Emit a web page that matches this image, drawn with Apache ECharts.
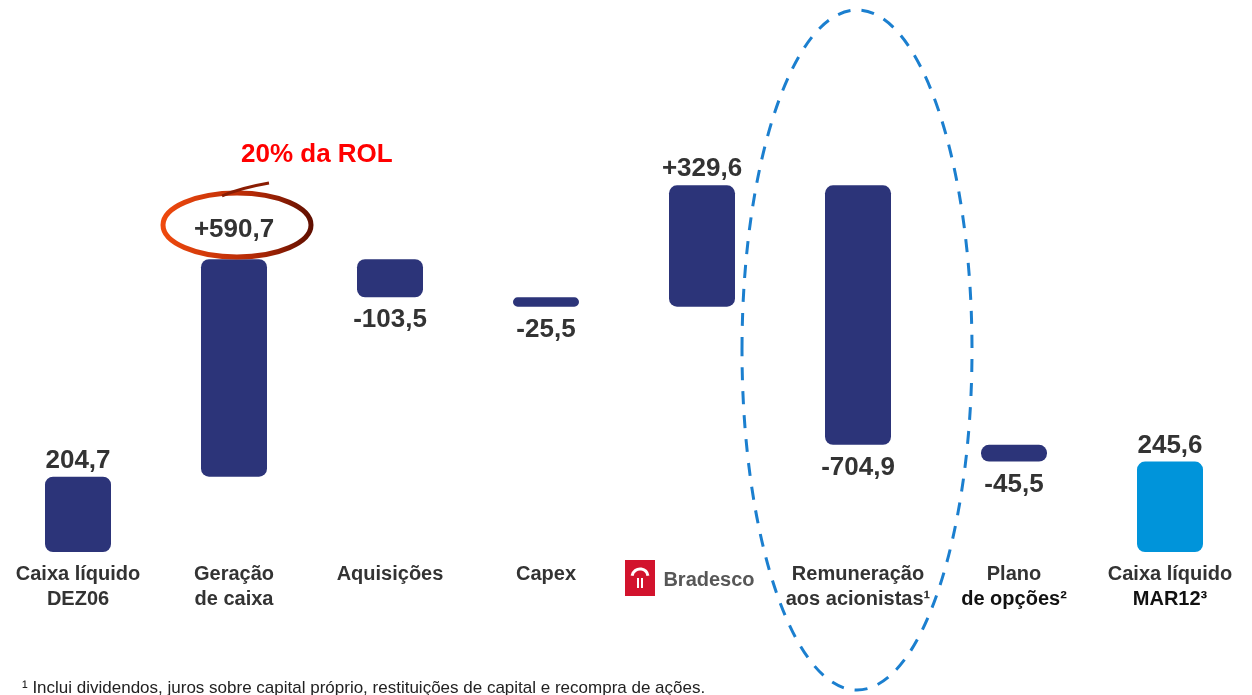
<!DOCTYPE html>
<html>
<head>
<meta charset="utf-8">
<script src="https://cdn.jsdelivr.net/npm/echarts@6/dist/echarts.min.js"></script>
<style>
  html, body { margin: 0; padding: 0; background: #fff; }
  #chart { width: 1252px; height: 695px; }
</style>
</head>
<body>
<div id="chart"></div>
<script>
// categorias e variações (R$ milhões)
const categories = [
  'Caixa líquido\nDEZ06', 'Geração\nde caixa', 'Aquisições', 'Capex',
  'Bradesco', 'Remuneração\naos acionistas¹', 'Plano\nde opções²', 'Caixa líquido\nMAR12³'
];
const deltas = [204.7, 590.7, -103.5, -25.5, 329.6, -704.9, -45.5, 245.6];
const isTotal = [true, false, false, false, false, false, false, true];

const BAR = '#2c3479';
const BAR_END = '#0094da';
const TXT = '#333333';

function fmt(v, total) {
  const s = Math.abs(v).toFixed(1).replace('.', ',');
  if (total) return s;
  return (v > 0 ? '+' : '-') + s;
}

// base invisível + barra visível (cascata)
const baseData = [];
const barData = [];
let running = 0;
deltas.forEach((v, i) => {
  let base, h;
  if (isTotal[i]) {
    base = 0; h = v; running = v;
  } else if (v >= 0) {
    base = running; h = v; running += v;
  } else {
    base = running + v; h = -v; running += v;
  }
  baseData.push(base);
  barData.push({
    value: h,
    itemStyle: { color: i === deltas.length - 1 ? BAR_END : BAR },
    label: {
      show: true,
      position: v >= 0 ? 'top' : 'bottom',
      distance: i === 1 ? 16 : (v >= 0 ? 3 : 10),
      formatter: fmt(v, isTotal[i])
    }
  });
});

const chart = echarts.init(document.getElementById('chart'));

chart.setOption({
  animation: false,
  grid: { left: -6, right: 4, top: 147, bottom: 143 },
  xAxis: {
    type: 'category',
    data: categories,
    axisLine: { show: false },
    axisTick: { show: false },
    axisLabel: {
      interval: 0,
      margin: 10,
      fontFamily: 'Liberation Sans, Arial, sans-serif',
      fontSize: 20,
      fontWeight: 'bold',
      color: TXT,
      lineHeight: 25,
      formatter(v) {
        if (v === 'Bradesco') return '{brad|Bradesco}';
        const lines = v.split('\n');
        if (v.startsWith('Plano') || v.indexOf('MAR12') >= 0) {
          return lines[0] + '\n{dk|' + lines[1] + '}';
        }
        return v;
      },
      rich: {
        brad: {
          color: '#575757', fontSize: 20, fontWeight: 'bold',
          fontFamily: 'Liberation Sans, Arial, sans-serif',
          padding: [12, 0, 0, 14]
        },
        dk: {
          color: '#111111', fontSize: 20, fontWeight: 'bold',
          fontFamily: 'Liberation Sans, Arial, sans-serif', lineHeight: 25
        }
      }
    }
  },
  yAxis: { type: 'value', min: 0, max: 1100, show: false, splitLine: { show: false } },
  series: [
    {
      type: 'bar',
      stack: 'w',
      data: baseData,
      barWidth: 66,
      itemStyle: { color: 'transparent' },
      silent: true
    },
    {
      type: 'bar',
      stack: 'w',
      data: barData,
      barWidth: 66,
      itemStyle: { borderRadius: 8 },
      label: {
        fontFamily: 'Liberation Sans, Arial, sans-serif',
        fontSize: 26,
        fontWeight: 'bold',
        color: TXT
      }
    }
  ],
  graphic: [
    // destaque "20% da ROL"
    {
      type: 'text', left: 241, top: 142, z: 10,
      style: {
        text: '20% da ROL', fill: '#ff0000',
        font: 'bold 26px "Liberation Sans", Arial, sans-serif'
      }
    },
    // círculo vermelho em volta de +590,7
    {
      type: 'ellipse', z: 10,
      shape: { cx: 237, cy: 225, rx: 74, ry: 32 },
      style: {
        fill: 'none', lineWidth: 5,
        stroke: new echarts.graphic.LinearGradient(0, 0, 1, 0, [
          { offset: 0, color: '#f04a0e' },
          { offset: 0.6, color: '#b52a06' },
          { offset: 1, color: '#5e0e00' }
        ])
      }
    },
    {
      type: 'bezierCurve', z: 10,
      shape: { x1: 222, y1: 196, x2: 269, y2: 183, cpx1: 240, cpy1: 188 },
      style: { stroke: '#8a1c02', lineWidth: 3, fill: 'none' }
    },
    // elipse tracejada azul
    {
      type: 'ellipse', z: 10,
      shape: { cx: 857, cy: 350, rx: 115, ry: 340 },
      style: { fill: 'none', stroke: '#1b7fcf', lineWidth: 3, lineDash: [13, 11] }
    },
    // logo Bradesco
    {
      type: 'group', left: 625, top: 560, z: 10,
      children: [
        { type: 'rect', shape: { x: 0, y: 0, width: 30, height: 36 }, style: { fill: '#d2132d' } },
        { type: 'arc', shape: { cx: 15, cy: 17, r: 8, startAngle: Math.PI * 1.05, endAngle: Math.PI * 1.95 },
          style: { stroke: '#fff', lineWidth: 3, fill: 'none' } },
        { type: 'rect', shape: { x: 12, y: 18, width: 2, height: 10 }, style: { fill: '#fff' } },
        { type: 'rect', shape: { x: 16, y: 18, width: 2, height: 10 }, style: { fill: '#fff' } }
      ]
    },
    // nota de rodapé
    {
      type: 'text', left: 22, top: 680,
      style: {
        text: '¹ Inclui dividendos, juros sobre capital próprio, restituições de capital e recompra de ações.',
        fill: '#222', font: '17px "Liberation Sans", Arial, sans-serif'
      }
    }
  ]
});
</script>
</body>
</html>
